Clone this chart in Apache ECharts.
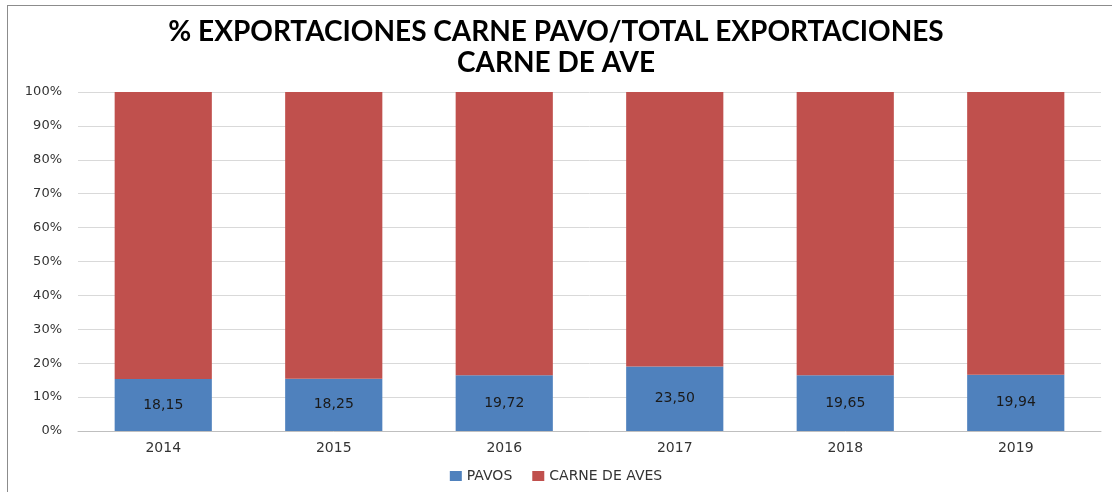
<!DOCTYPE html>
<html>
<head>
<meta charset="utf-8">
<script src="https://cdn.jsdelivr.net/npm/echarts@6/dist/echarts.min.js"></script>
<style>
  body { margin: 0; background: #fff; }
  #frame { position: absolute; left: 7px; top: 5px; width: 1110px; height: 492px; border-left: 1px solid #8c8c8c; border-top: 1px solid #8c8c8c; }
  #main { position: absolute; left: 0; top: 0; width: 1112px; height: 492px; }
</style>
</head>
<body>
<div id="frame"></div>
<div id="main"></div>
<script>
var years = ['2014', '2015', '2016', '2017', '2018', '2019'];
var pavos = [18.15, 18.25, 19.72, 23.50, 19.65, 19.94];
var aves = [100, 100, 100, 100, 100, 100];
var yTicks = ['0%', '10%', '20%', '30%', '40%', '50%', '60%', '70%', '80%', '90%', '100%'];

// 100% apilado
var pavosPct = [], avesPct = [];
for (var i = 0; i < years.length; i++) {
    var tot = pavos[i] + aves[i];
    pavosPct.push(pavos[i] / tot * 100);
    avesPct.push(aves[i] / tot * 100);
}

var chart = echarts.init(document.getElementById('main'));
chart.setOption({
    animation: false,
    title: {
        text: '% EXPORTACIONES CARNE PAVO/TOTAL EXPORTACIONES\nCARNE DE AVE',
        left: 'center',
        top: 11,
        textStyle: { fontFamily: 'Lato', fontWeight: 'bold', fontSize: 28, lineHeight: 31, color: '#000' }
    },
    legend: {
        bottom: 4,
        left: 'center',
        itemWidth: 12,
        itemHeight: 10,
        itemGap: 20,
        icon: 'rect',
        textStyle: { fontFamily: 'DejaVu Sans', fontSize: 14, color: '#333' },
        data: ['PAVOS', 'CARNE DE AVES']
    },
    grid: { left: 78, right: 11, top: 92, bottom: 61 },
    xAxis: {
        type: 'category',
        data: years,
        axisTick: { show: false },
        axisLine: { lineStyle: { color: '#bfbfbf' } },
        axisLabel: { fontFamily: 'DejaVu Sans', fontSize: 14, color: '#333', margin: 10 }
    },
    yAxis: {
        type: 'value',
        min: 0,
        max: 100,
        interval: 10,
        axisLine: { show: false },
        axisTick: { show: false },
        splitLine: { lineStyle: { color: '#d9d9d9' } },
        axisLabel: {
            fontFamily: 'DejaVu Sans', fontSize: 13, color: '#333', margin: 16,
            formatter: function (v) { return yTicks[Math.round(v / 10)]; }
        }
    },
    series: [{
        name: 'PAVOS',
        type: 'bar',
        stack: 'total',
        barWidth: '57%',
        data: pavosPct,
        itemStyle: { color: '#4f81bd' },
        label: {
            show: true,
            position: 'inside',
            fontFamily: 'DejaVu Sans',
            fontSize: 14,
            color: '#1a1a1a',
            formatter: function (p) { return pavos[p.dataIndex].toFixed(2).replace('.', ','); }
        }
    }, {
        name: 'CARNE DE AVES',
        type: 'bar',
        stack: 'total',
        barWidth: '57%',
        data: avesPct,
        itemStyle: { color: '#c0504d' }
    }]
});
</script>
</body>
</html>
